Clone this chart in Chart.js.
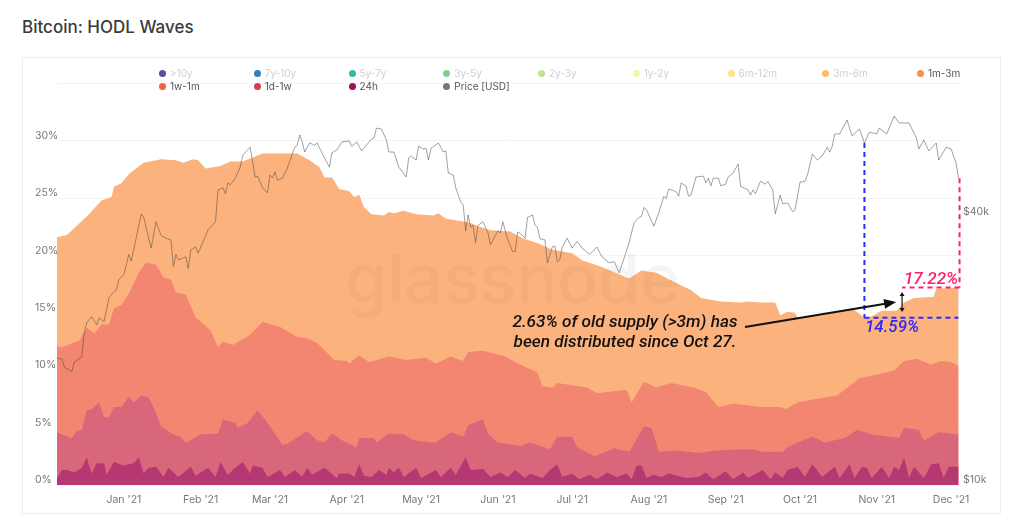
<!DOCTYPE html>
<html>
<head>
<meta charset="utf-8">
<title>Bitcoin: HODL Waves</title>
<script src="https://cdn.jsdelivr.net/npm/chart.js@4/dist/chart.umd.min.js"></script>
<style>
html, body { margin: 0; padding: 0; background: #fff; width: 1024px; height: 527px; overflow: hidden; font-family: Inter, sans-serif; }
#title { position: absolute; left: 22px; top: 17px; font-size: 17px; font-weight: 500; color: #3a3a3a; line-height: 20px; }
#card { position: absolute; left: 22px; top: 57px; width: 977px; height: 455px; border: 1px solid #eeeeee; }
#chart_box { position: absolute; left: 0; top: 0; width: 1024px; height: 527px; }
#legend { position: absolute; left: 159px; top: 67px; display: grid; grid-template-columns: repeat(9, 94.75px); grid-auto-rows: 13px; font-size: 10px; }
#legend div { white-space: nowrap; line-height: 13px; }
#legend i { display: inline-block; width: 7px; height: 7px; border-radius: 50%; margin-right: 4px; }
</style>
</head>
<body>
<div id="title">Bitcoin: HODL Waves</div>
<div id="card"></div>
<div id="chart_box"><canvas id="hodl_chart" width="1024" height="527"></canvas></div>
<div id="legend"></div>
<script>
// days are counted from 1 Jan 2021, band values are the top edge of each band in %
const legendNames = [">10y", "7y-10y", "5y-7y", "3y-5y", "2y-3y", "1y-2y", "6m-12m", "3m-6m", "1m-3m", "1w-1m", "1d-1w", "24h", "Price [USD]"];
const legendColors = ["#5b4ba5", "#2f7fbf", "#3cb5a8", "#7fd08f", "#bfe58a", "#f3f7a0", "#fee38b", "#fdbb6c", "#f98e52", "#ee6445", "#d83c4e", "#a50f5a", "#777777"];
const legendActive = ["1m-3m", "1w-1m", "1d-1w", "24h", "Price [USD]"];

const monthDays = [0, 31, 59, 90, 120, 151, 181, 212, 243, 273, 304, 334];
const monthNames = ["Jan '21", "Feb '21", "Mar '21", "Apr '21", "May '21", "Jun '21", "Jul '21", "Aug '21", "Sep '21", "Oct '21", "Nov '21", "Dec '21"];
const percentTicks = [0, 5, 10, 15, 20, 25, 30, 35];
const priceTicks = [10000, 40000];

const days1m3m = [-27,-23,-19,-15,-9,-5,-4,-1,2,8,15,21,24,28,30,33,39,43,48,56,70,75,79,81,84,87,91,93,95,97,100,105,107,109,113,118,125,127,130,139,144,148,156,161,167,173,181,185,193,204,209,215,225,229,233,241,249,252,257,263,265,268,271,272,282,294,299,302,306,312,315,319,327,328,337];
const band1m3m = [21.6,21.8,22.6,23.4,24.8,25.1,26.0,26.3,27.1,28.1,28.4,28.3,28.1,28.4,28.3,27.6,27.8,28.2,28.2,28.9,28.9,28.3,27.7,26.8,26.8,25.8,25.6,25.1,25.3,24.2,23.6,23.5,23.8,23.7,23.9,23.6,23.5,23.7,23.2,22.9,22.5,22.2,22.1,21.5,21.1,20.5,20.2,19.6,19.0,18.0,18.7,18.5,17.4,17.0,16.3,16.0,15.9,16.0,15.9,15.9,14.8,15.1,15.0,14.6,14.8,15.4,14.59,14.7,15.2,15.2,15.9,16.3,16.4,17.1,17.22];

const days1w1m = [-27,-25,-18,-15,-12,-9,-6,-4,-1,2,6,9,13,16,19,21,25,29,35,38,40,44,47,51,56,63,70,74,78,85,90,91,95,99,107,114,122,126,132,137,139,145,154,159,167,169,173,175,187,191,203,205,210,215,221,230,235,240,246,257,265,267,272,277,288,297,304,311,315,320,326,330,334,337];
const band1w1m = [12.1,12.0,12.6,13.7,13.2,14.0,14.0,15.4,15.7,16.7,18.5,19.4,19.2,18.1,17.9,16.8,16.6,14.6,13.5,12.0,12.5,12.2,12.6,13.1,14.2,13.8,12.9,12.8,12.4,10.9,10.8,10.6,11.3,10.7,11.2,10.9,11.1,10.6,11.2,10.8,11.6,11.7,11.2,10.6,9.8,8.6,8.5,8.9,8.5,8.0,8.3,7.2,9.0,8.5,8.9,8.5,8.1,6.8,7.1,6.8,6.8,6.6,7.2,7.4,7.8,9.3,9.6,10.0,10.8,11.0,10.5,10.8,10.7,10.4];

const days1d1w = [-27,-25,-21,-19,-17,-15,-13,-10,-8,-6,-4,-1,2,4,7,10,12,15,20,23,25,31,38,40,45,46,50,54,57,60,64,66,74,78,81,84,88,94,95,101,102,107,113,117,124,126,132,137,139,145,147,151,160,164,172,175,181,183,190,198,204,210,213,216,223,232,239,247,254,258,266,268,272,278,283,291,296,302,313,315,321,323,329,337];
const band1d1w = [4.6,4.4,4.1,4.7,4.8,6.5,6.6,7.2,5.9,5.9,6.8,6.8,7.7,7.2,7.8,7.6,6.8,5.1,4.4,4.2,3.7,4.4,4.5,5.7,5.4,5.0,5.4,6.5,5.7,4.8,3.5,3.6,4.7,3.9,3.7,4.5,3.9,3.3,4.1,4.1,3.7,4.5,4.4,3.9,3.7,3.7,4.6,4.2,5.2,5.7,4.5,3.7,3.4,3.7,3.1,4.2,4.2,3.3,2.5,3.2,2.9,5.1,5.0,2.9,3.0,2.8,3.0,3.1,3.1,2.9,2.9,3.3,3.7,4.2,3.7,4.1,4.8,4.4,4.1,5.0,4.8,3.9,4.6,4.4];

const days24h = [-27,-25,-23,-20,-17,-15,-13,-11,-8,-7,-4,0,4,6,8,10,13,16,18,22,27,29,34,37,39,42,45,48,51,52,56,58,63,65,69,72,74,76,81,86,87,91,93,95,97,100,103,106,107,109,111,113,118,120,126,128,132,134,138,140,145,148,152,155,158,162,164,169,172,175,177,181,184,188,191,195,199,203,205,207,209,211,214,217,220,227,232,235,238,243,246,250,252,258,261,263,266,268,272,275,278,282,287,289,293,295,298,300,302,306,309,311,313,315,317,319,323,326,329,331,333,337];
const band24h = [0.6,1.3,1.3,1.1,1.5,2.4,1.0,1.9,1.9,0.9,2.0,1.7,1.9,2.4,1.0,1.5,1.6,0.7,1.5,0.7,1.6,0.8,1.5,0.7,2.0,0.9,1.5,2.0,1.0,1.7,1.5,0.7,1.3,0.7,1.3,0.7,1.5,0.9,1.5,0.6,1.0,1.0,0.7,1.8,0.8,0.7,1.3,0.9,1.5,1.1,1.5,0.7,1.5,0.6,1.3,0.7,1.5,0.9,2.4,1.3,1.4,0.7,1.1,0.7,1.3,0.6,1.0,0.6,1.3,1.8,0.7,1.0,0.5,0.9,0.5,1.1,0.7,1.0,0.5,1.7,1.7,0.6,0.9,0.7,1.0,0.6,0.7,1.1,0.5,1.2,0.5,1.1,0.6,1.3,0.5,1.1,0.6,1.3,1.6,0.7,1.8,0.7,1.6,0.6,1.8,0.6,1.6,1.5,0.6,1.6,0.6,1.6,1.3,2.4,0.6,1.6,0.6,1.8,1.9,0.6,1.6,1.6];

const priceDays = [-27,-25,-24,-21,-20,-17,-16,-15,-13,-11,-10,-8,-6,-4,-3,-2,0,2,3,7,8,11,13,15,17,19,20,21,22,25,26,27,29,30,34,37,38,40,41,42,43,45,47,48,51,53,54,56,58,59,60,61,62,64,66,69,70,71,72,73,75,77,78,81,83,84,86,88,91,92,94,96,100,101,102,104,106,107,109,111,114,115,116,118,119,121,122,123,124,127,129,130,131,133,134,136,137,138,139,140,141,142,143,145,147,148,151,152,153,155,157,158,159,161,162,163,165,166,167,168,170,171,173,174,175,176,177,179,181,183,185,188,191,193,196,198,200,202,204,206,208,209,210,211,214,216,218,219,220,223,224,225,227,228,229,231,234,235,236,237,238,240,241,243,244,246,248,249,252,253,254,255,257,259,260,262,263,265,266,268,270,271,273,275,276,278,280,282,284,285,286,287,289,292,294,297,299,301,304,305,308,311,313,317,320,321,323,325,328,329,332,334,336,337];
const priceUsd = [19300,19200,18400,18000,18900,19400,22000,23200,23900,22900,23800,23300,26400,27200,27500,29000,29700,33000,31900,40700,40000,34100,39100,36400,35900,35600,31000,33000,32100,32600,30700,33800,34300,33200,37500,39100,46100,46600,45200,47800,47300,49000,51900,55200,57500,49300,49500,46600,45400,49800,49000,50600,48500,49000,51600,57500,58100,61300,59100,56100,58800,58100,58800,54400,51900,55900,56700,59100,59400,57800,59100,56400,60000,60300,63500,63200,59700,56100,56100,51900,49300,54400,55000,53800,57800,57000,57200,53800,57200,58800,56100,56400,50300,49800,46600,43300,42700,37300,40500,38000,38400,35100,38400,39100,36900,34700,37300,36900,39100,35600,33500,33500,37100,36400,35900,40000,40500,38400,38000,35800,35600,31600,34300,34500,31800,32100,34300,35900,34100,35300,34100,33000,34300,32600,31600,31800,30000,32400,35100,38900,40000,40200,42100,41600,38200,41000,44600,44100,46300,45700,44600,47800,47000,44600,44900,49300,49500,47800,49000,47100,49000,49000,47100,47500,49300,50300,52700,47000,46100,44900,46100,45200,48200,47500,48200,46100,40700,44900,42900,43100,41200,41600,48000,48200,49800,55500,53800,55000,57500,56100,57800,61600,61600,66200,61000,63200,58800,62200,61600,63500,61600,67600,65200,65200,60300,57000,59700,56400,58800,53800,57500,57000,53000,49000];

// callout readings
const oct27Day = 299;
const lastDay = 337;
const oct27Percent = 14.59;
const lastPercent = 17.22;
const oct27Price = 58800;
const lastPrice = 49000;

function toPoints(xs, ys) {
    return xs.map((x, i) => ({ x: x, y: ys[i] }));
}

let legend = document.getElementById("legend");
legendNames.forEach((name, i) => {
    let item = document.createElement("div");
    let dot = document.createElement("i");
    dot.style.background = legendColors[i];
    item.appendChild(dot);
    item.appendChild(document.createTextNode(name));
    item.style.color = legendActive.includes(name) ? "#555" : "#cfcfcf";
    legend.appendChild(item);
});

function bandDataset(label, points, color) {
    return { label: label, data: points, yAxisID: "y", borderWidth: 0, pointRadius: 0, fill: "origin", backgroundColor: color, tension: 0 };
}

function dashed(ctx, x1, y1, x2, y2, color) {
    ctx.save();
    ctx.strokeStyle = color;
    ctx.lineWidth = 2;
    ctx.setLineDash([5, 4]);
    ctx.beginPath();
    ctx.moveTo(x1, y1);
    ctx.lineTo(x2, y2);
    ctx.stroke();
    ctx.restore();
}

function arrowHead(ctx, x, y, angle, len, half) {
    ctx.save();
    ctx.translate(x, y);
    ctx.rotate(angle);
    ctx.beginPath();
    ctx.moveTo(0, 0);
    ctx.lineTo(-len, -half);
    ctx.lineTo(-len, half);
    ctx.closePath();
    ctx.fill();
    ctx.restore();
}

const callouts = {
    id: "callouts",
    afterDatasetsDraw(chart) {
        const ctx = chart.ctx;
        const xs = chart.scales.x, ys = chart.scales.y, ps = chart.scales.price;
        const px = d => xs.getPixelForValue(d);
        const py = v => ys.getPixelForValue(v);

        ctx.save();
        ctx.fillStyle = "rgba(110,110,110,0.07)";
        ctx.font = "500 68px Inter";
        ctx.textBaseline = "alphabetic";
        ctx.textAlign = "left";
        ctx.fillText("glassnode", 345, 303);
        ctx.restore();

        const blue = "#2b2bff", pink = "#ff1f68";
        dashed(ctx, px(oct27Day), ps.getPixelForValue(oct27Price), px(oct27Day), py(oct27Percent), blue);
        dashed(ctx, px(oct27Day), py(oct27Percent), px(lastDay), py(oct27Percent), blue);
        dashed(ctx, px(lastDay) + 1, ps.getPixelForValue(lastPrice), px(lastDay) + 1, py(lastPercent), pink);
        dashed(ctx, px(lastDay) + 1, py(lastPercent), px(314.2), py(lastPercent), pink);

        ctx.save();
        ctx.fillStyle = "#111";
        ctx.strokeStyle = "#111";
        ctx.lineWidth = 2;
        const ax = px(250.8), ay = py(13.78), bx = px(311.8), by = py(15.96);
        const angle = Math.atan2(by - ay, bx - ax);
        ctx.beginPath();
        ctx.moveTo(ax, ay);
        ctx.lineTo(bx - 8 * Math.cos(angle), by - 8 * Math.sin(angle));
        ctx.stroke();
        arrowHead(ctx, bx, by, angle, 12, 5);

        const tx = px(314.2), t1 = py(16.83), t2 = py(15.08);
        ctx.lineWidth = 1.2;
        ctx.beginPath();
        ctx.moveTo(tx, t1 + 3);
        ctx.lineTo(tx, t2 - 3);
        ctx.stroke();
        arrowHead(ctx, tx, t1, -Math.PI / 2, 4, 2.5);
        arrowHead(ctx, tx, t2, Math.PI / 2, 4, 2.5);

        ctx.font = "italic 500 17.2px Roboto";
        ctx.textAlign = "center";
        ctx.textBaseline = "middle";
        ctx.fillText("2.63% of old supply (>3m) has", 625, 323);
        ctx.fillText("been distributed since Oct 27.", 625, 343);

        ctx.font = "italic 500 17px Roboto";
        ctx.textAlign = "left";
        ctx.fillStyle = pink;
        ctx.fillText("17.22%", 904, 280);
        ctx.fillStyle = blue;
        ctx.fillText("14.59%", 865, 328);
        ctx.restore();
    }
};

new Chart(document.getElementById("hodl_chart"), {
    type: "line",
    data: {
        datasets: [
            { label: "Price [USD]", data: toPoints(priceDays, priceUsd), yAxisID: "price", borderColor: "rgba(70,70,70,0.5)", borderWidth: 1, pointRadius: 0, fill: false, tension: 0 },
            bandDataset("24h", toPoints(days24h, band24h), "#b53872"),
            bandDataset("1d-1w", toPoints(days1d1w, band1d1w), "#d9677b"),
            bandDataset("1w-1m", toPoints(days1w1m, band1w1m), "#f38670"),
            bandDataset("1m-3m", toPoints(days1m3m, band1m3m), "#fcb27c")
        ]
    },
    options: {
        responsive: false,
        animation: false,
        events: [],
        layout: { padding: { left: 35, top: 83.5, right: 0, bottom: 0 } },
        plugins: { legend: { display: false }, tooltip: { enabled: false } },
        scales: {
            x: {
                type: "linear",
                min: -27,
                max: 338.4,
                grid: { display: false },
                border: { display: false },
                afterBuildTicks: s => { s.ticks = monthDays.map(d => ({ value: d })); },
                afterFit: s => { s.height = 42; },
                ticks: {
                    autoSkip: false,
                    maxRotation: 0,
                    padding: 1,
                    color: "#777",
                    font: { family: "Inter", size: 10.5 },
                    callback: v => monthNames[monthDays.indexOf(v)]
                }
            },
            y: {
                min: 0,
                max: 35,
                grid: { color: "#f4f4f4", drawTicks: false },
                border: { display: false },
                afterBuildTicks: s => { s.ticks = percentTicks.map(v => ({ value: v })); },
                afterFit: s => { s.width = 22; },
                ticks: {
                    crossAlign: "far",
                    labelOffset: -5,
                    color: "#777",
                    font: { family: "Inter", size: 10.5 },
                    callback: v => (v < 35 ? v + "%" : "")
                }
            },
            price: {
                type: "logarithmic",
                position: "right",
                min: 10000,
                max: 80000,
                grid: { display: false, drawTicks: false },
                border: { display: false },
                afterBuildTicks: s => { s.ticks = priceTicks.map(v => ({ value: v })); },
                afterFit: s => { s.width = 62; },
                ticks: {
                    padding: 1,
                    labelOffset: -5,
                    color: "#777",
                    font: { family: "Inter", size: 10.5 },
                    callback: v => "$" + v / 1000 + "k"
                }
            }
        }
    },
    plugins: [callouts]
});
</script>
</body>
</html>
